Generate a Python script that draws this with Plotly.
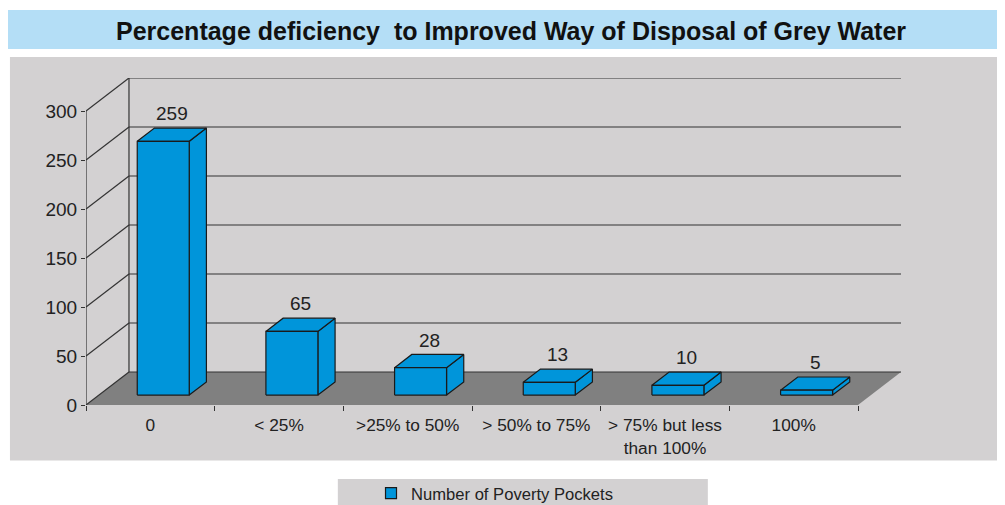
import plotly.graph_objects as go

# data
categories = ['0', '< 25%', '>25% to 50%', '> 50% to 75%', '> 75% but less<br>than 100%', '100%']
poverty_pockets = [259, 65, 28, 13, 10, 5]
y_ticks = [0, 50, 100, 150, 200, 250, 300]
series_name = 'Number of Poverty Pockets'

# fake 3d: depth offset in axis units (x in categories, y in values)
DX = 0.334
DY = 33.7
BAR_W = 0.404
D0, D1 = 0.3, 0.7
N = len(categories)
BLUE = '#0095DA'
EDGE = '#1a1a1a'
GRID = '#333333'
BG = '#D3D1D2'
FONT = 'Liberation Sans, Arial, sans-serif'


def p(x, v, d):
    return x + d * DX, v + d * DY


def poly(points):
    xs = [pt[0] for pt in points] + [points[0][0], None]
    ys = [pt[1] for pt in points] + [points[0][1], None]
    return xs, ys


fig = go.Figure()

# floor
fx, fy = poly([p(0, 0, 0), p(N, 0, 0), p(N, 0, 1), p(0, 0, 1)])
fig.add_trace(go.Scatter(x=fx, y=fy, fill='toself', fillcolor='#808080',
                         line=dict(width=0), mode='lines',
                         hoverinfo='skip', showlegend=False))

# walls and gridlines
gx, gy = [], []
for v in y_ticks:
    for a, b in [(p(0, v, 0), p(0, v, 1)), (p(0, v, 1), p(N, v, 1))]:
        gx += [a[0], b[0], None]
        gy += [a[1], b[1], None]
for a, b in [(p(0, 0, 0), p(0, y_ticks[-1], 0)), (p(0, 0, 1), p(0, y_ticks[-1], 1))]:
    gx += [a[0], b[0], None]
    gy += [a[1], b[1], None]
fig.add_trace(go.Scatter(x=gx, y=gy, mode='lines', line=dict(color=GRID, width=1.2),
                         hoverinfo='skip', showlegend=False, cliponaxis=False))

# bars: side, top, front faces
sx, sy, tx, ty, frx, fry = [], [], [], [], [], []
for i, v in enumerate(poverty_pockets):
    c0 = i + 0.5 - BAR_W / 2
    c1 = i + 0.5 + BAR_W / 2
    a, b = poly([p(c1, 0, D0), p(c1, 0, D1), p(c1, v, D1), p(c1, v, D0)])
    sx += a; sy += b
    a, b = poly([p(c0, v, D0), p(c1, v, D0), p(c1, v, D1), p(c0, v, D1)])
    tx += a; ty += b
    a, b = poly([p(c0, 0, D0), p(c1, 0, D0), p(c1, v, D0), p(c0, v, D0)])
    frx += a; fry += b
for xs, ys in [(sx, sy), (tx, ty), (frx, fry)]:
    fig.add_trace(go.Scatter(x=xs, y=ys, fill='toself', fillcolor=BLUE, mode='lines',
                             line=dict(color=EDGE, width=1.2),
                             hoverinfo='skip', showlegend=False))

# legend entry only
fig.add_trace(go.Scatter(x=[None], y=[None], mode='markers', name=series_name,
                         marker=dict(symbol='square', size=11, color=BLUE,
                                     line=dict(color=EDGE, width=1.2))))

# boundary tick marks on a second x axis
fig.add_trace(go.Scatter(x=[None], y=[None], xaxis='x2', showlegend=False, hoverinfo='skip'))

# value labels
for i, v in enumerate(poverty_pockets):
    lx, ly = p(i + 0.5, v, 0.5)
    fig.add_annotation(x=lx, y=ly, text=str(v), showarrow=False, yshift=21,
                       yanchor='middle', font=dict(family=FONT, size=19, color='#222'))

# title
fig.add_annotation(xref='paper', yref='paper', x=0.5215, y=1.1437,
                   text='Percentage deficiency\u00a0 to Improved Way of Disposal of Grey Water',
                   showarrow=False, yanchor='middle',
                   font=dict(family=FONT, size=25, color='#111', weight='bold'))

# page body has an 8px margin, so the figure is 8px smaller than the window
fig.update_layout(
    width=997, height=497,
    margin=dict(l=78, r=104, t=70, b=100, autoexpand=False),
    paper_bgcolor='white',
    plot_bgcolor='rgba(0,0,0,0)',
    showlegend=True,
    legend=dict(x=0.3497, y=-0.27, xanchor='left', yanchor='middle',
                bgcolor='rgba(0,0,0,0)', font=dict(family=FONT, size=16.6, color='#222')),
    xaxis=dict(range=[0, N + DX], tickvals=[i + 0.5 for i in range(N)], ticktext=categories,
               showgrid=False, zeroline=False, showline=False, ticks='',
               ticklabelstandoff=8,
               tickfont=dict(family=FONT, size=17.3, color='#222')),
    xaxis2=dict(range=[0, N + DX], overlaying='x', anchor='y', side='bottom',
                tickvals=list(range(N + 1)), ticks='outside', ticklen=5, tickcolor=GRID,
                showticklabels=False, showgrid=False, zeroline=False, showline=False),
    yaxis=dict(range=[0, y_ticks[-1] + DY], tickvals=y_ticks, ticks='outside', ticklen=4,
               tickcolor=GRID, showgrid=False, zeroline=False, showline=False,
               tickfont=dict(family=FONT, size=19, color='#222')),
    shapes=[
        dict(type='rect', xref='paper', yref='paper', layer='below',
             x0=-0.0933, x1=1.13, y0=-0.17, y1=1.064, fillcolor=BG, line=dict(width=0)),
        dict(type='rect', xref='paper', yref='paper', layer='below',
             x0=-0.1018, x1=1.13, y0=1.0887, y1=1.208, fillcolor='#B4DEF6', line=dict(width=0)),
        dict(type='rect', xref='paper', yref='paper', layer='below',
             x0=0.309, x1=0.763, y0=-0.35, y1=-0.226, fillcolor=BG, line=dict(width=0)),
    ],
)

fig.write_html('out.html')
